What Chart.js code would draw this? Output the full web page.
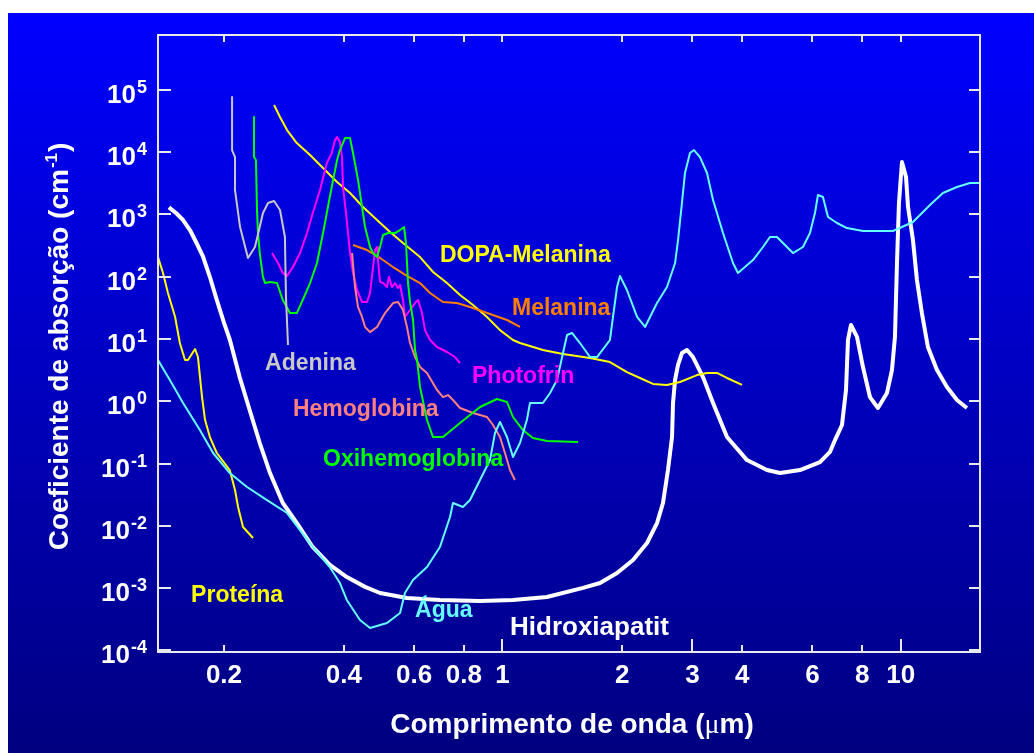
<!DOCTYPE html>
<html>
<head>
<meta charset="utf-8">
<script src="https://cdn.jsdelivr.net/npm/chart.js@4"></script>
<style>
  html, body { margin: 0; padding: 0; background: #fff; }
  #wrap { width: 1034px; height: 753px; }
</style>
</head>
<body>
<div id="wrap"><canvas id="absorcao" width="1034" height="753"></canvas></div>
<script>
// comprimento de onda (um) e coeficiente de absorcao (cm^-1)
let hidroxiapatit = [[0.1455,1300],[0.1516,1053],[0.1579,813],[0.1643,562],[0.1702,361],[0.177,215],[0.1844,98.9],[0.1919,42.3],[0.1998,18.7],[0.207,9.64],[0.219,2.45],[0.232,0.725],[0.246,0.214],[0.261,0.0706],[0.281,0.0233],[0.305,0.0111],[0.334,0.00459],[0.369,0.00236],[0.407,0.00151],[0.4521,0.00105],[0.493,0.000838],[0.576,0.000697],[0.697,0.000647],[0.879,0.000623],[1.063,0.000647],[1.294,0.000723],[1.594,0.00101],[1.758,0.00121],[1.94,0.00175],[2.128,0.00284],[2.307,0.00532],[2.444,0.0111],[2.53,0.0233],[2.604,0.0789],[2.666,0.267],[2.681,0.94],[2.713,2.2],[2.76,3.83],[2.823,5.96],[2.907,6.66],[3.009,5.14],[3.188,2.45],[3.379,0.94],[3.663,0.267],[4.111,0.114],[4.615,0.0789],[4.975,0.0706],[5.585,0.0789],[6.269,0.106],[6.642,0.154],[6.838,0.239],[7.12,0.417],[7.287,1.52],[7.371,9.64],[7.499,16.8],[7.765,10.8],[8.038,3.55],[8.369,1.17],[8.765,0.781],[9.234,1.36],[9.505,3.18],[9.671,10.8],[9.784,166],[9.897,1524],[10.07,6935],[10.31,3984],[10.43,1315],[10.73,388],[10.98,88.5],[11.3,26.1],[11.7,7.44],[12.33,3.18],[13.06,1.7],[13.84,1.05],[14.66,0.781]];
let agua = [[0.1366,4.6],[0.1463,2.2],[0.1579,0.94],[0.174,0.346],[0.1878,0.148],[0.2068,0.0706],[0.2285,0.0421],[0.2565,0.026],[0.288,0.0161],[0.3342,0.00459],[0.3687,0.00219],[0.391,0.00121],[0.4068,0.000647],[0.439,0.000309],[0.4653,0.00023],[0.5132,0.000276],[0.5534,0.0004],[0.5693,0.000838],[0.5966,0.00135],[0.6467,0.00219],[0.697,0.00459],[0.7387,0.0139],[0.7516,0.0233],[0.7961,0.0201],[0.8292,0.026],[0.8786,0.0546],[0.9309,0.114],[0.958,0.31],[0.9862,0.465],[1.027,0.267],[1.063,0.128],[1.107,0.214],[1.152,0.501],[1.173,0.94],[1.264,0.94],[1.317,1.36],[1.371,2.2],[1.453,11.6],[1.495,12.5],[1.566,8.63],[1.659,5.14],[1.728,5.14],[1.862,9.64],[1.895,22.6],[1.94,68.3],[1.973,103],[2.054,61.2],[2.178,22.6],[2.281,15.6],[2.444,37.8],[2.589,68.3],[2.713,166],[2.76,388],[2.823,1524],[2.873,4620],[2.957,9680],[3.027,10800],[3.133,8340],[3.263,4620],[3.379,1703],[3.579,503],[3.792,166],[3.903,115],[4.256,185],[4.51,300],[4.695,434],[4.889,434],[5.271,268],[5.363,240],[5.682,300],[5.917,503],[6.09,1053],[6.197,2048],[6.378,1901],[6.567,908],[6.918,728],[7.328,605],[8.038,542],[9.559,542],[10.73,755],[11.84,1416],[12.76,2205],[13.84,2754],[14.92,3192],[15.81,3192]];
let proteina = [[0.1366,207],[0.1406,115],[0.1447,54.8],[0.1508,22.6],[0.155,8.63],[0.1597,4.6],[0.1625,4.6],[0.1692,6.91],[0.1721,5.14],[0.1762,1.17],[0.1793,0.501],[0.1844,0.267],[0.1919,0.148],[0.2068,0.0789],[0.2132,0.0377],[0.217,0.0201],[0.2233,0.0096],[0.2366,0.0064]];
let adenina = [[0.2096,76600],[0.2096,10800],[0.2132,8340],[0.2132,2465],[0.2195,628],[0.2298,200],[0.2393,300],[0.2506,1053],[0.258,1524],[0.2672,1641],[0.2765,1177],[0.2845,434],[0.2862,47.2],[0.2896,8.01]];
let oxihemoglobina = [[0.2379,36600],[0.2379,8340],[0.2406,7470],[0.2421,1177],[0.2435,503],[0.246,240],[0.2506,98.9],[0.2536,79.2],[0.2607,82.2],[0.2718,79.2],[0.281,42.3],[0.293,26.1],[0.3047,26.1],[0.3153,42.3],[0.329,79.2],[0.3424,166],[0.3546,503],[0.3687,1901],[0.3845,7470],[0.391,10800],[0.4026,16800],[0.4145,16800],[0.4217,9680],[0.4342,3566],[0.4443,1315],[0.4521,628],[0.4653,300],[0.4735,240],[0.4845,207],[0.493,300],[0.5017,467],[0.5163,503],[0.5375,503],[0.5534,562],[0.5662,628],[0.5728,347],[0.5796,79.2],[0.5863,39.3],[0.5966,20.2],[0.6036,6.66],[0.6106,4.6],[0.6212,1.7],[0.6467,0.501],[0.6697,0.267],[0.7094,0.267],[0.7827,0.449],[0.8786,0.81],[0.9692,1.09],[1.027,0.975],[1.063,0.56],[1.126,0.346],[1.193,0.258],[1.294,0.231],[1.548,0.222]];
let photofrin = [[0.2641,240],[0.2733,166],[0.281,115],[0.288,103],[0.298,143],[0.3105,240],[0.3232,503],[0.3342,1053],[0.3485,2465],[0.3624,6683],[0.373,9680],[0.38,15600],[0.3845,17500],[0.391,14500],[0.3957,8340],[0.398,2754],[0.405,1053],[0.4097,503],[0.4145,240],[0.4217,115],[0.4315,61.2],[0.4443,39.3],[0.4573,39.3],[0.4653,54.8],[0.4735,143],[0.4788,268],[0.4845,300],[0.4872,185],[0.493,82.2],[0.5017,79.2],[0.5132,68.3],[0.5192,98.9],[0.5282,68.3],[0.5375,79.2],[0.547,65.9],[0.5534,73.6],[0.563,42.3],[0.5693,22.6],[0.5863,29.2],[0.6036,37.8],[0.6141,42.3],[0.6284,26.1],[0.6394,13.9],[0.6581,9.64],[0.6853,7.44],[0.7259,6.19],[0.7603,5.14],[0.7827,4.12]];
let hemoglobina = [[0.4193,240],[0.4266,68.3],[0.4342,32.6],[0.4443,22.6],[0.4521,15.6],[0.4653,12.9],[0.4845,15.6],[0.5074,26.1],[0.5314,37.8],[0.547,39.3],[0.563,29.2],[0.576,15.6],[0.5863,8.63],[0.6036,5.14],[0.6212,3.55],[0.6467,2.85],[0.6853,1.52],[0.7094,1.17],[0.7303,1.26],[0.7516,1.05],[0.7827,0.781],[0.8437,0.649],[0.9148,0.56],[0.9471,0.417],[0.9862,0.267],[1.015,0.148],[1.045,0.0789],[1.075,0.0546]];
let melanina = [[0.4217,323],[0.4573,268],[0.493,200],[0.5314,143],[0.576,103],[0.6212,79.2],[0.6581,54.8],[0.7094,39.3],[0.7687,37.8],[0.8292,32.6],[0.9309,25.2],[1.027,20.2],[1.107,15.6]];
let dopaMelanina = [[0.2672,57000],[0.2765,36600],[0.288,22600],[0.3047,14000],[0.329,8980],[0.3546,5560],[0.3845,3311],[0.4145,2205],[0.4468,1315],[0.4845,813],[0.5223,522],[0.563,347],[0.6212,207],[0.6697,119],[0.7259,79.2],[0.7827,50.9],[0.8437,35.1],[0.9148,22.6],[0.9862,13.9],[1.063,9.64],[1.107,8.63],[1.264,6.66],[1.419,5.74],[1.659,4.95],[1.862,4.27],[2.054,2.95],[2.215,2.37],[2.388,1.9],[2.589,1.83],[2.791,2.04],[3.08,2.64],[3.263,2.85],[3.457,2.85],[3.663,2.37],[3.995,1.83]];

// eixos
let xTicks = [0.2, 0.4, 0.6, 0.8, 1, 2, 3, 4, 6, 8, 10];
let xTickLabels = ['0.2', '0.4', '0.6', '0.8', '1', '2', '3', '4', '6', '8', '10'];
let xLongTicks = [1, 3, 10];
let yExponents = [-4, -3, -2, -1, 0, 1, 2, 3, 4, 5];

// nomes das curvas, ancorados em (um, cm^-1)
let curveLabels = [
  { text: 'DOPA-Melanina', color: '#ffff00', x: 0.697, y: 172, size: 23 },
  { text: 'Melanina', color: '#ff8000', x: 1.057, y: 24.3, size: 23 },
  { text: 'Adenina', color: '#c8c8c8', x: 0.2536, y: 3.18, size: 23 },
  { text: 'Photofrin', color: '#ff00ff', x: 0.8388, y: 1.97, size: 23 },
  { text: 'Hemoglobina', color: '#ff8080', x: 0.298, y: 0.581, size: 23 },
  { text: 'Oxihemoglobina', color: '#00ff00', x: 0.3546, y: 0.0915, size: 23 },
  { text: 'Proteína', color: '#ffff00', x: 0.1654, y: 6.0e-4, size: 23 },
  { text: 'Água', color: '#66ffff', x: 0.6036, y: 3.45e-4, size: 23 },
  { text: 'Hidroxiapatit', color: '#ffffff', x: 1.045, y: 1.77e-4, size: 26 }
];

const SANS = '"Liberation Sans", Arial, sans-serif';

function toPoints(arr) {
  return arr.map(p => ({ x: p[0], y: p[1] }));
}

function serie(label, arr, color, width) {
  return {
    label: label,
    data: toPoints(arr),
    borderColor: color,
    borderWidth: width || 2,
    borderJoinStyle: 'round',
    fill: false,
    pointRadius: 0
  };
}

const axisFrame = {
  id: 'axisFrame',
  beforeDraw(chart) {
    const { ctx, width, height } = chart;
    ctx.save();
    ctx.fillStyle = '#ffffff';
    ctx.fillRect(0, 0, width, height);
    const g = ctx.createLinearGradient(0, 13, 0, height);
    g.addColorStop(0, '#0000ff');
    g.addColorStop(1, '#000080');
    ctx.fillStyle = g;
    ctx.fillRect(8, 13, width - 8, height - 13);
    ctx.restore();
  },
  afterDatasetsDraw(chart) {
    const { ctx, chartArea } = chart;
    const { left, right, top, bottom } = chartArea;
    const xs = chart.scales.x, ys = chart.scales.y;
    ctx.save();

    // moldura e marcas
    ctx.strokeStyle = '#e8e8f0';
    ctx.lineWidth = 2;
    ctx.strokeRect(left, top, right - left, bottom - top);
    ctx.beginPath();
    xTicks.forEach(v => {
      const px = Math.round(xs.getPixelForValue(v));
      ctx.moveTo(px, top);
      ctx.lineTo(px, top + 7);
      ctx.moveTo(px, bottom);
      ctx.lineTo(px, bottom - (xLongTicks.includes(v) ? 13 : 7));
    });
    yExponents.forEach(e => {
      const py = Math.round(ys.getPixelForValue(Math.pow(10, e)));
      ctx.moveTo(left, py);
      ctx.lineTo(left + 13, py);
      ctx.moveTo(right, py);
      ctx.lineTo(right - 11, py);
    });
    ctx.stroke();

    ctx.fillStyle = '#ffffff';
    ctx.textBaseline = 'alphabetic';

    // rotulos do eixo x
    ctx.font = 'bold 26px ' + SANS;
    ctx.textAlign = 'center';
    xTicks.forEach((v, i) => {
      ctx.fillText(xTickLabels[i], xs.getPixelForValue(v), bottom + 31);
    });

    // rotulos do eixo y: 10 com expoente
    ctx.textAlign = 'left';
    yExponents.forEach(e => {
      const py = ys.getPixelForValue(Math.pow(10, e));
      const sup = String(e);
      ctx.font = 'bold 18px ' + SANS;
      const wSup = ctx.measureText(sup).width;
      ctx.fillText(sup, 147 - wSup, py + 3);
      ctx.font = 'bold 26px ' + SANS;
      const wMain = ctx.measureText('10').width;
      ctx.fillText('10', 147 - wSup - 1 - wMain, py + 13);
    });

    // titulo do eixo x
    const partsX = [
      { t: 'Comprimento de onda (', f: 'bold 28px ' + SANS },
      { t: 'μ', f: '28px "Liberation Serif", "Times New Roman", serif' },
      { t: 'm)', f: 'bold 28px ' + SANS }
    ];
    let total = 0;
    partsX.forEach(p => { ctx.font = p.f; p.w = ctx.measureText(p.t).width; total += p.w; });
    let cx = 572 - total / 2;
    partsX.forEach(p => { ctx.font = p.f; ctx.fillText(p.t, cx, 733); cx += p.w; });

    // titulo do eixo y
    ctx.save();
    ctx.translate(68, 346);
    ctx.rotate(-Math.PI / 2);
    const partsY = [
      { t: 'Coeficiente de absorção (cm', f: 'bold 28px ' + SANS, dy: 0 },
      { t: '-1', f: 'bold 17px ' + SANS, dy: -11 },
      { t: ')', f: 'bold 28px ' + SANS, dy: 0 }
    ];
    total = 0;
    partsY.forEach(p => { ctx.font = p.f; p.w = ctx.measureText(p.t).width; total += p.w + 1; });
    cx = -total / 2;
    partsY.forEach(p => { ctx.font = p.f; ctx.fillText(p.t, cx, p.dy); cx += p.w + 1; });
    ctx.restore();

    // nomes das curvas
    curveLabels.forEach(l => {
      ctx.font = 'bold ' + l.size + 'px ' + SANS;
      ctx.fillStyle = l.color;
      ctx.fillText(l.text, xs.getPixelForValue(l.x), ys.getPixelForValue(l.y));
    });

    ctx.restore();
  }
};

const ctx = document.getElementById('absorcao').getContext('2d');

const chart = new Chart(ctx, {
  type: 'line',
  data: {
    datasets: [
      serie('Água', agua, '#66ffff'),
      serie('Proteína', proteina, '#ffff00'),
      serie('Adenina', adenina, '#c8c8c8'),
      serie('Oxihemoglobina', oxihemoglobina, '#00ff00'),
      serie('Hemoglobina', hemoglobina, '#ff8080'),
      serie('Photofrin', photofrin, '#ff00ff'),
      serie('Melanina', melanina, '#ff8000'),
      serie('DOPA-Melanina', dopaMelanina, '#ffff00'),
      serie('Hidroxiapatit', hidroxiapatit, '#ffffff', 4)
    ]
  },
  options: {
    responsive: false,
    animation: false,
    devicePixelRatio: 1,
    layout: { padding: { left: 158, right: 54, top: 35, bottom: 101 } },
    elements: { line: { tension: 0 } },
    plugins: {
      legend: { display: false },
      tooltip: { enabled: false }
    },
    scales: {
      x: { type: 'logarithmic', min: 0.1366, max: 15.81, display: false },
      y: { type: 'logarithmic', min: 9.46e-5, max: 7.59e5, display: false }
    }
  },
  plugins: [axisFrame]
});
</script>
</body>
</html>
